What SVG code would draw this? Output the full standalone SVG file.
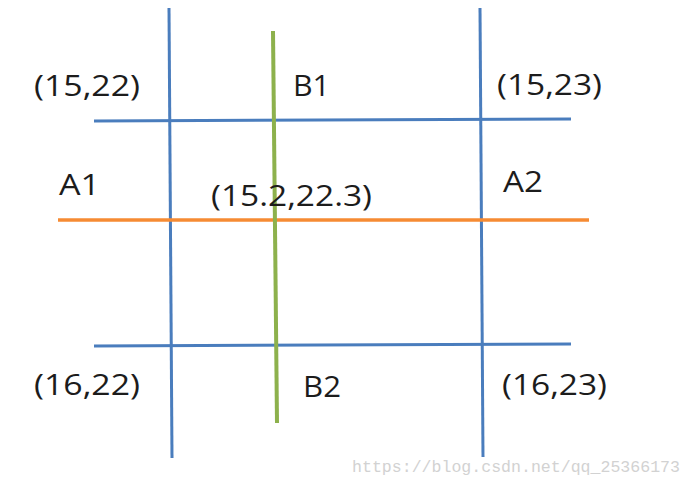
<svg xmlns="http://www.w3.org/2000/svg" width="692" height="486" viewBox="0 0 692 486">
<style>
.blue{stroke:#4a7dbd;stroke-width:3;fill:none}
.orange{stroke:#f68b33;stroke-width:3.5;fill:none}
.green{stroke:#8db14c;stroke-width:4;fill:none}
.lbl{font-family:"Open Sans","Liberation Sans",sans-serif;font-size:29px;fill:#1c1c1c}
.wm{font-family:"Liberation Mono","DejaVu Sans Mono",monospace;font-size:16px;fill:#d2d2d2}
</style>
<rect width="692" height="486" fill="#ffffff"/>
<g id="connectors">
<line class="blue" x1="169" y1="8" x2="172" y2="458"/>
<line class="blue" x1="480" y1="8" x2="483" y2="457"/>
<line class="blue" x1="94" y1="121" x2="571" y2="119"/>
<line class="blue" x1="94" y1="346" x2="571" y2="344"/>
<line class="orange" x1="58" y1="220" x2="589" y2="220"/>
<line class="green" x1="273" y1="31" x2="277" y2="423"/>
</g>
<g id="p1522"><text class="lbl" x="34" y="96" textLength="106" lengthAdjust="spacingAndGlyphs">(15,22)</text></g>
<g id="B1"><text class="lbl" x="293" y="96" textLength="37" lengthAdjust="spacingAndGlyphs">B1</text></g>
<g id="p1523"><text class="lbl" x="497" y="95" textLength="105" lengthAdjust="spacingAndGlyphs">(15,23)</text></g>
<g id="A1"><text class="lbl" x="59" y="195" textLength="41" lengthAdjust="spacingAndGlyphs">A1</text></g>
<g id="p152223"><text class="lbl" x="211" y="206" textLength="161" lengthAdjust="spacingAndGlyphs">(15.2,22.3)</text></g>
<g id="A2"><text class="lbl" x="503" y="192" textLength="40" lengthAdjust="spacingAndGlyphs">A2</text></g>
<g id="p1622"><text class="lbl" x="34" y="395" textLength="106" lengthAdjust="spacingAndGlyphs">(16,22)</text></g>
<g id="B2"><text class="lbl" x="303" y="397" textLength="38" lengthAdjust="spacingAndGlyphs">B2</text></g>
<g id="p1623"><text class="lbl" x="502" y="395" textLength="105" lengthAdjust="spacingAndGlyphs">(16,23)</text></g>
<text class="wm" x="352" y="472" textLength="328" lengthAdjust="spacingAndGlyphs">https://blog.csdn.net/qq_25366173</text>
</svg>
